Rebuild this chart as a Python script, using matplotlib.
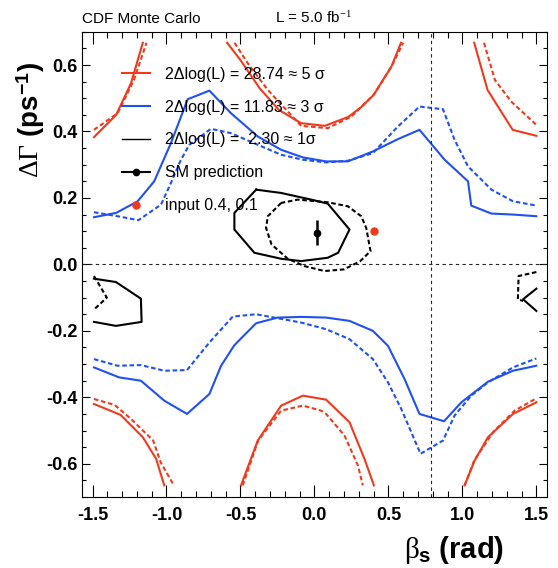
import numpy as np
import matplotlib
matplotlib.use('Agg')
import matplotlib.pyplot as plt
from matplotlib.lines import Line2D
from matplotlib.ticker import MultipleLocator

plt.rcParams['font.family'] = ['Liberation Sans', 'DejaVu Sans']
plt.rcParams['mathtext.fontset'] = 'custom'
plt.rcParams['mathtext.rm'] = 'Liberation Serif'
plt.rcParams['mathtext.it'] = 'Liberation Serif'
plt.rcParams['mathtext.bf'] = 'Liberation Sans:bold'

RED = '#f03a1e'
BLUE = '#2050f0'

# contour lines: (beta_s, DeltaGamma) vertices
# 5 sigma, solid
s5_solid_ul = [(-1.49, 0.383), (-1.34, 0.450), (-1.24, 0.545), (-1.16, 0.667)]
s5_solid_um = [(-0.59, 0.667), (-0.50, 0.615), (-0.37, 0.530), (-0.24, 0.465), (-0.09, 0.425),
               (0.07, 0.417), (0.23, 0.444), (0.32, 0.475), (0.40, 0.510), (0.52, 0.595), (0.585, 0.667)]
s5_solid_ur = [(1.08, 0.667), (1.17, 0.525), (1.34, 0.405), (1.50, 0.387)]
s5_solid_ll = [(-1.49, -0.42), (-1.31, -0.453), (-1.16, -0.52), (-1.07, -0.585), (-1.015, -0.665)]
s5_solid_lm = [(-0.496, -0.665), (-0.383, -0.53), (-0.225, -0.425), (-0.078, -0.395), (0.079, -0.407),
               (0.237, -0.475), (0.338, -0.585), (0.402, -0.665)]
s5_solid_lr = [(1.015, -0.665), (1.083, -0.59), (1.173, -0.52), (1.342, -0.45), (1.50, -0.415)]
# 5 sigma, dashed
s5_dash_ul = [(-1.49, 0.405), (-1.33, 0.455), (-1.22, 0.555), (-1.135, 0.667)]
s5_dash_um = [(-0.54, 0.667), (-0.45, 0.605), (-0.315, 0.525), (-0.09, 0.417), (0.09, 0.41),
              (0.25, 0.445), (0.40, 0.51), (0.52, 0.595), (0.60, 0.667)]
s5_dash_ur = [(1.146, 0.667), (1.22, 0.555), (1.33, 0.49), (1.50, 0.42)]
s5_dash_ll = [(-1.49, -0.405), (-1.35, -0.423), (-1.24, -0.465), (-1.09, -0.53), (-1.04, -0.595), (-0.95, -0.665)]
s5_dash_lm = [(-0.485, -0.665), (-0.38, -0.53), (-0.225, -0.44), (-0.078, -0.425), (0.045, -0.44),
              (0.079, -0.45), (0.203, -0.515), (0.294, -0.605), (0.327, -0.665)]
s5_dash_lr = [(1.015, -0.665), (1.08, -0.59), (1.207, -0.505), (1.353, -0.44), (1.50, -0.403)]

# 3 sigma
s3_solid_up = [(-1.49, 0.142), (-1.34, 0.155), (-1.195, 0.19), (-1.083, 0.25), (-0.97, 0.365),
               (-0.857, 0.497), (-0.71, 0.523), (-0.564, 0.455), (-0.383, 0.385), (-0.225, 0.345),
               (-0.078, 0.322), (0.079, 0.31), (0.226, 0.31), (0.395, 0.34), (0.564, 0.377),
               (0.71, 0.405), (0.88, 0.315), (1.038, 0.25), (1.06, 0.177), (1.196, 0.153),
               (1.342, 0.15), (1.50, 0.145)]
s3_solid_lo = [(-1.49, -0.31), (-1.32, -0.34), (-1.173, -0.35), (-1.015, -0.41), (-0.861, -0.45),
               (-0.71, -0.39), (-0.631, -0.305), (-0.541, -0.243), (-0.394, -0.177), (-0.248, -0.16),
               (-0.09, -0.158), (0.079, -0.16), (0.237, -0.17), (0.395, -0.2), (0.497, -0.245),
               (0.609, -0.345), (0.71, -0.45), (0.876, -0.472), (0.993, -0.415), (1.173, -0.353),
               (1.342, -0.32), (1.50, -0.305)]
s3_dash_up = [(-1.49, 0.157), (-1.33, 0.145), (-1.19, 0.133), (-1.037, 0.18), (-0.97, 0.245),
              (-0.902, 0.315), (-0.846, 0.36), (-0.70, 0.408), (-0.564, 0.395), (-0.383, 0.36),
              (-0.225, 0.33), (-0.078, 0.315), (0.079, 0.307), (0.226, 0.312), (0.395, 0.335),
              (0.564, 0.415), (0.71, 0.475), (0.869, 0.467), (0.947, 0.375), (1.038, 0.295),
              (1.196, 0.225), (1.342, 0.19), (1.50, 0.177)]
s3_dash_lo = [(-1.49, -0.285), (-1.33, -0.305), (-1.173, -0.303), (-1.015, -0.32), (-0.861, -0.318),
              (-0.71, -0.235), (-0.552, -0.157), (-0.394, -0.15), (-0.248, -0.162), (-0.09, -0.175),
              (0.079, -0.195), (0.237, -0.225), (0.395, -0.285), (0.497, -0.355), (0.587, -0.435),
              (0.717, -0.57), (0.869, -0.53), (0.947, -0.455), (1.06, -0.395), (1.173, -0.355),
              (1.342, -0.31), (1.50, -0.283)]

# 1 sigma
s1_solid_c = [(-0.394, 0.225), (-0.541, 0.155), (-0.541, 0.105), (-0.406, 0.035), (-0.225, 0.017),
              (-0.09, 0.01), (0.09, 0.02), (0.16, 0.035), (0.237, 0.105), (0.09, 0.183),
              (-0.022, 0.195), (-0.225, 0.215), (-0.394, 0.225)]
s1_solid_l = [(-1.49, -0.043), (-1.342, -0.053), (-1.173, -0.103), (-1.168, -0.173), (-1.342, -0.185), (-1.49, -0.173)]
s1_solid_r = [(1.50, -0.073), (1.41, -0.105), (1.50, -0.14)]
s1_dash_c = [(-0.225, 0.185), (-0.315, 0.145), (-0.327, 0.11), (-0.29, 0.06), (-0.18, 0.017),
             (-0.068, -0.005), (0.068, -0.02), (0.2, -0.015), (0.31, 0.01), (0.379, 0.04),
             (0.35, 0.11), (0.316, 0.145), (0.226, 0.175), (0.09, 0.187), (-0.112, 0.195), (-0.225, 0.185)]
s1_dash_l = [(-1.49, -0.035), (-1.403, -0.10), (-1.493, -0.137)]
s1_dash_r = [(1.50, -0.023), (1.38, -0.035), (1.375, -0.105), (1.41, -0.11)]

# points
sm_beta, sm_dgamma, sm_err = 0.02, 0.096, 0.039
input_beta, input_dgamma = 0.4, 0.1

legend_labels = ['2\u0394log(L) = 28.74 \u2248 5 \u03c3',
                 '2\u0394log(L) = 11.83 \u2248 3 \u03c3',
                 '2\u0394log(L) =  2.30 \u2248 1\u03c3',
                 'SM prediction',
                 'input 0.4, 0.1']

fig = plt.figure(figsize=(5.58, 5.68), dpi=100)
ax = fig.add_axes([0.147, 0.125, 0.833, 0.819])

dash = (0, (2.2, 1.3))


def draw(seg, color, ls):
    xy = np.array(seg)
    ax.plot(xy[:, 0], xy[:, 1], color=color, lw=1.5, ls=ls)


for seg in [s5_solid_ul, s5_solid_um, s5_solid_ur, s5_solid_ll, s5_solid_lm, s5_solid_lr]:
    draw(seg, RED, '-')
for seg in [s5_dash_ul, s5_dash_um, s5_dash_ur, s5_dash_ll, s5_dash_lm, s5_dash_lr]:
    draw(seg, RED, dash)
for seg in [s3_solid_up, s3_solid_lo]:
    draw(seg, BLUE, '-')
for seg in [s3_dash_up, s3_dash_lo]:
    draw(seg, BLUE, dash)
for seg in [s1_solid_c, s1_solid_l, s1_solid_r]:
    draw(seg, 'black', '-')
for seg in [s1_dash_c, s1_dash_l, s1_dash_r]:
    draw(seg, 'black', dash)

# reference lines at DeltaGamma = 0 and beta_s = pi/4
ax.axhline(0.0, color='0.15', lw=0.8, ls=(0, (3, 3)))
ax.axvline(np.pi / 4, color='0.15', lw=0.8, ls=(0, (3, 3)))

ax.errorbar([sm_beta], [sm_dgamma], yerr=[sm_err], fmt='o', color='black', ms=4.5, elinewidth=1.8, capsize=0)
ax.plot([input_beta], [input_dgamma], 'o', color=RED, ms=5)

ax.set_xlim(-np.pi / 2, np.pi / 2)
ax.set_ylim(-0.7, 0.7)
ax.xaxis.set_major_locator(MultipleLocator(0.5))
ax.xaxis.set_minor_locator(MultipleLocator(0.1))
ax.yaxis.set_major_locator(MultipleLocator(0.2))
ax.yaxis.set_minor_locator(MultipleLocator(0.05))
ax.set_xticks(np.arange(-1.5, 1.51, 0.5))
ax.set_xticklabels(['%.1f' % v for v in np.arange(-1.5, 1.51, 0.5)])
ax.set_yticks(np.arange(-0.6, 0.61, 0.2))
ax.set_yticklabels(['%.1f' % (v + 0.0) for v in np.round(np.arange(-0.6, 0.61, 0.2), 1)])
ax.tick_params(axis='both', which='both', direction='in', top=True, right=True, width=0.8)
ax.tick_params(axis='x', which='major', length=8.5, pad=7, labelsize=13)
ax.tick_params(axis='x', which='minor', length=4.3)
ax.tick_params(axis='y', which='major', length=6, pad=3, labelsize=13)
ax.tick_params(axis='y', which='minor', length=3)
for lab in ax.get_xticklabels() + ax.get_yticklabels():
    lab.set_fontweight('bold')
for sp in ax.spines.values():
    sp.set_linewidth(0.8)

ax.set_xlabel(r'$\beta_{\mathbf{s}}$ (rad)', fontsize=21, fontweight='bold')
ax.xaxis.set_label_coords(0.80, -0.08)
ax.set_ylabel(r'$\Delta\Gamma$ (ps$^{\mathbf{-1}}$)', fontsize=20, fontweight='bold')
ax.yaxis.set_label_coords(-0.075, 0.81)

ax.text(0.0, 1.02, 'CDF Monte Carlo', transform=ax.transAxes, fontsize=11, va='baseline')
ax.text(0.415, 1.02, r'L = 5.0 fb$^{-1}$', transform=ax.transAxes, fontsize=11, va='baseline')

handles = [Line2D([], [], color=RED, lw=1.5),
           Line2D([], [], color=BLUE, lw=1.5),
           Line2D([], [], color='black', lw=1.0),
           Line2D([], [], color='black', lw=1.5, marker='o', ms=4.5),
           Line2D([], [], color=RED, lw=0, marker='o', ms=5)]
ax.legend(handles, legend_labels, loc='upper left', bbox_to_anchor=(0.085, 0.925), frameon=False,
          fontsize=11.5, handlelength=1.8, handletextpad=0.95, labelspacing=1.12, borderpad=0, borderaxespad=0)

fig.savefig('out.png', dpi=100)
